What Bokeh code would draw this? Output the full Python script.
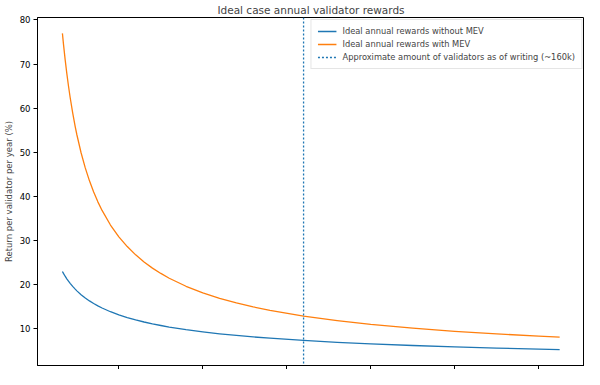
from bokeh.plotting import figure
from bokeh.models import Span, FixedTicker, Range1d, Legend, LegendItem
from bokeh.embed import file_html
from bokeh.resources import INLINE

# Data
validators = [16384, 17000, 18000, 19000, 20000, 21000, 22500, 24000, 25000, 27500,
              30000, 32500, 35000, 37500, 40000, 45000, 50000, 55000, 60000, 65000,
              70000, 75000, 80000, 90000, 100000, 110000, 120000, 130000, 140000,
              160000, 180000, 200000, 225000, 250000, 275000, 300000, 312500]
rewards_no_mev = [22.97, 22.55, 21.91, 21.33, 20.79, 20.29, 19.60, 18.98, 18.59, 17.73,
                  16.97, 16.31, 15.72, 15.18, 14.70, 13.86, 13.15, 12.54, 12.00, 11.53,
                  11.11, 10.74, 10.39, 9.80, 9.30, 8.86, 8.49, 8.15, 7.86,
                  7.35, 6.93, 6.57, 6.20, 5.88, 5.61, 5.37, 5.26]
rewards_mev = [76.97, 74.59, 71.06, 67.89, 65.03, 62.42, 58.92, 55.84, 53.98, 49.90,
               46.46, 43.53, 41.00, 38.77, 36.82, 33.52, 30.84, 28.63, 26.75, 25.14,
               23.75, 22.54, 21.45, 19.63, 18.15, 16.90, 15.86, 14.96, 14.18,
               12.88, 11.85, 10.99, 10.13, 9.42, 8.83, 8.32, 8.09]
current_validators = 160000
x_ticks = [50000, 100000, 150000, 200000, 250000, 300000]
y_ticks = [10, 20, 30, 40, 50, 60, 70, 80]

FONT = "DejaVu Sans"
BLUE = "#1f77b4"
ORANGE = "#ff7f0e"

p = figure(width=584, height=369, output_backend="svg", toolbar_location=None,
           title="Ideal case annual validator rewards",
           x_range=Range1d(1550, 327300), y_range=Range1d(1.67, 80.56),
           min_border_left=0, min_border_right=0, min_border_top=12, min_border_bottom=0)

p.title.text_font = FONT
p.title.text_font_size = "10.5px"
p.title.text_font_style = "normal"
p.title.align = "center"
p.title.standoff = 3

p.grid.visible = False
p.outline_line_color = "black"
p.outline_line_width = 1
p.background_fill_color = "white"
p.border_fill_color = "white"

r1 = p.line(validators, rewards_no_mev, line_color=BLUE, line_width=1.3, line_join="round")
r2 = p.line(validators, rewards_mev, line_color=ORANGE, line_width=1.3, line_join="round")

span = Span(location=current_validators, dimension="height", line_color=BLUE,
            line_width=1.3, line_dash="2 2")
p.add_layout(span)
r3 = p.line([float("nan")], [float("nan")], line_color=BLUE, line_width=1.3, line_dash="2 2")

for ax in (p.xaxis[0], p.yaxis[0]):
    ax.major_tick_out = 4
    ax.major_tick_in = 0
    ax.minor_tick_out = 0
    ax.minor_tick_in = 0
    ax.axis_line_color = "black"
    ax.major_tick_line_color = "black"
    ax.major_label_text_font = FONT
    ax.major_label_text_font_size = "8.5px"
    ax.major_label_text_color = "black"
    ax.axis_label_text_font = FONT
    ax.axis_label_text_font_size = "8.5px"
    ax.axis_label_text_font_style = "normal"

p.xaxis[0].ticker = FixedTicker(ticks=x_ticks)
p.xaxis[0].major_label_overrides = {t: "" for t in x_ticks}
p.xaxis[0].major_label_text_font_size = "1px"
p.xaxis[0].major_label_standoff = 0
p.yaxis[0].ticker = FixedTicker(ticks=y_ticks)
p.yaxis[0].axis_label = "Return per validator per year (%)"
p.yaxis[0].major_label_standoff = 3
p.yaxis[0].axis_label_standoff = 3

legend = Legend(items=[
    LegendItem(label="Ideal annual rewards without MEV", renderers=[r1]),
    LegendItem(label="Ideal annual rewards with MEV", renderers=[r2]),
    LegendItem(label="Approximate amount of validators as of writing (~160k)", renderers=[r3]),
], location="top_right")
legend.label_text_font = FONT
legend.label_text_font_size = "8.3px"
legend.label_height = 8
legend.glyph_height = 8
legend.glyph_width = 19
legend.spacing = 3
legend.padding = 6
legend.margin = 2
legend.label_standoff = 6
legend.border_line_color = "#cccccc"
legend.border_line_width = 1
legend.background_fill_alpha = 0.8
p.add_layout(legend)

open("out.html", "w").write(file_html(p, INLINE))
